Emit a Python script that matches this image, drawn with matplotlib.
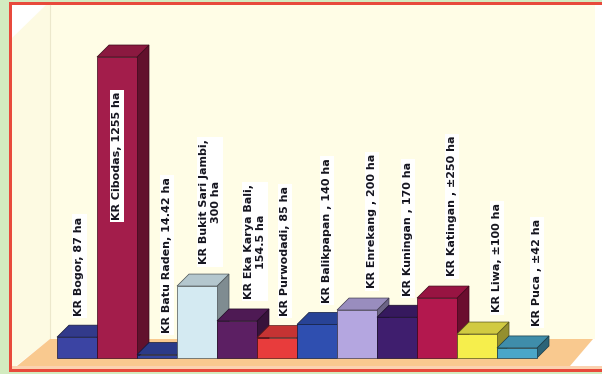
import matplotlib
matplotlib.use('Agg')
import matplotlib.pyplot as plt
from matplotlib.patches import Polygon
import matplotlib.colors as mcolors
import numpy as np

# Kebun Raya (botanic gardens) and their areas in hectares
gardens = ["Bogor", "Cibodas", "Batu Raden", "Bukit Sari Jambi", "Eka Karya Bali",
           "Purwodadi", "Balikpapan", "Enrekang", "Kuningan", "Katingan", "Liwa", "Puca"]
areas = [87, 1255, 14.42, 300, 154.5, 85, 140, 200, 170, 250, 100, 42]
labels = ["KR Bogor, 87 ha", "KR Cibodas, 1255 ha", "KR Batu Raden, 14.42 ha",
          "KR Bukit Sari Jambi,\n300 ha", "KR Eka Karya Bali,\n154.5 ha",
          "KR Purwodadi, 85 ha", "KR Balikpapan , 140 ha", "KR Enrekang , 200 ha",
          "KR Kuningan , 170 ha", "KR Katingan , \u00b1250 ha", "KR Liwa, \u00b1100 ha",
          "KR Puca , \u00b142 ha"]
colors = ["#3b44a3", "#a31d4b", "#3344a0", "#d4eaf2", "#5c1f63", "#e83c3c",
          "#2f4fb0", "#b4a6e0", "#3f1e6e", "#b3184e", "#f6ee4c", "#4aa6c8"]

# label placement tweaks (fraction of a bar width)
label_dx = [0.06, 0.0, 0.25, 0.33, 0.45, 0.2, 0.25, 0.37, 0.27, 0.37, 0.5, 0.5]

W, H = 602, 374
fig = plt.figure(figsize=(W / 100, H / 100), dpi=100)
fig.patch.set_facecolor("#d3ebc0")


def px(x, y):
    return (x / W, 1 - y / H)


def deco(points, color, z=-5):
    p = Polygon([px(*pt) for pt in points], closed=True, facecolor=color,
                edgecolor="none", transform=fig.transFigure, zorder=z)
    fig.patches.append(p)


# frame and walls
deco([(9, 2), (610, 2), (610, 372), (9, 372)], "#e84a3c", z=-9)
deco([(12, 5), (610, 5), (610, 369), (12, 369)], "#ffffff", z=-8)
deco([(50, 5), (595, 5), (595, 339), (50, 339)], "#fffde6", z=-7)
deco([(12, 38), (46, 5), (50, 5), (50, 339), (12, 369)], "#fdfae2", z=-7)
deco([(12, 366), (610, 366), (610, 369), (12, 369)], "#fbd2b0", z=-6)
# floor
deco([(50, 339), (593, 339), (570, 366), (17, 366)], "#f9c98f", z=-6)
fig.lines.append(plt.Line2D([50 / W, 50 / W], [1 - 5 / H, 1 - 339 / H],
                            color="#ece8cc", lw=0.8, transform=fig.transFigure, zorder=-6))

ax = fig.add_axes([0, 0, 1, 1])
ax.patch.set_visible(False)
ax.axis("off")

# data -> pixel mapping: bar fronts are 40 px wide, 1255 ha spans 301 px
ax.set_xlim(-1.925, 13.125)
ax.set_ylim(-66.7, 1492.6)

ddx = 0.3    # depth offset in bar widths
ddy = 50.0   # depth offset in ha

x = np.arange(len(areas))


def shade(c, f):
    r, g, b = mcolors.to_rgb(c)
    return (r * f, g * f, b * f)


for i, (v, c) in enumerate(zip(areas, colors)):
    left, right = x[i] - 0.5, x[i] + 0.5
    side = Polygon([(right, 0), (right + ddx, ddy), (right + ddx, v + ddy), (right, v)],
                   facecolor=shade(c, 0.6), edgecolor=shade(c, 0.35), lw=0.5, zorder=2 + i)
    top = Polygon([(left, v), (right, v), (right + ddx, v + ddy), (left + ddx, v + ddy)],
                  facecolor=shade(c, 0.85), edgecolor=shade(c, 0.35), lw=0.5, zorder=2 + i)
    ax.add_patch(side)
    ax.add_patch(top)
    ax.bar(x[i], v, width=1.0, color=c, edgecolor=shade(c, 0.35), lw=0.5, zorder=2 + i)

for i, (v, lab) in enumerate(zip(areas, labels)):
    if v == max(areas):
        ly = 575
    else:
        ly = v + ddy + 40
    ax.text(x[i] + label_dx[i], ly, lab, rotation=90, ha="center", va="bottom",
            multialignment="center", fontsize=8, fontweight="bold", color="#15151f",
            bbox=dict(facecolor="white", edgecolor="none", pad=1.5), zorder=30)

fig.savefig("out.png", dpi=100)
